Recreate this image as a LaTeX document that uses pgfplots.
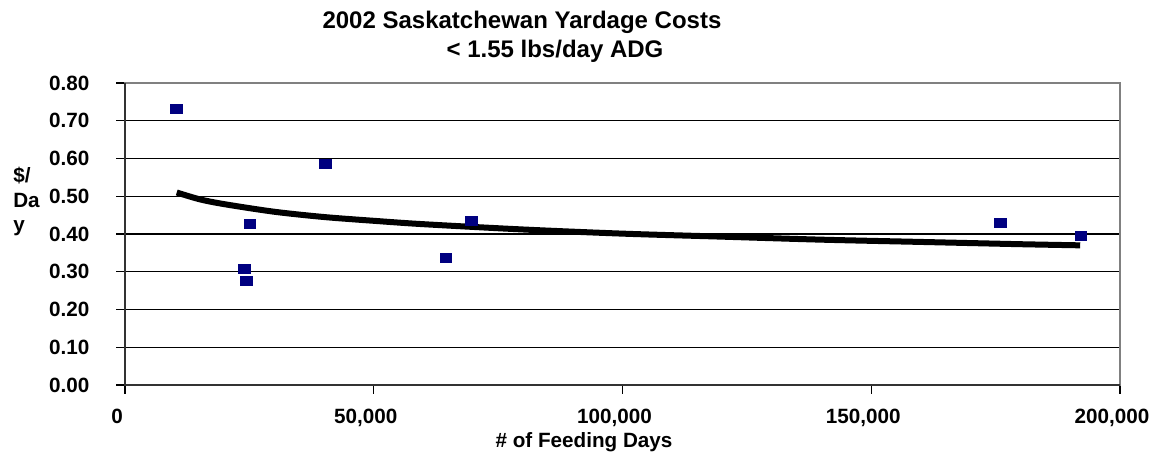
\documentclass[border=0pt]{standalone}
\usepackage{fontspec}
\setmainfont{Liberation Sans}
\usepackage{pgfplots}
\pgfplotsset{compat=1.18}
\definecolor{navy}{RGB}{0,0,128}
\definecolor{bordergray}{RGB}{128,128,128}
\begin{document}
\begin{tikzpicture}
\begin{axis}[
  at={(0,0)}, anchor=south west,
  scale only axis,
  width=746.25pt, height=226.5pt,
  xmin=0, xmax=200000, ymin=0, ymax=0.8,
  xtick={0,50000,100000,150000,200000},
  xticklabels={0,{50,000},{100,000},{150,000},{200,000}},
  ytick={0,0.1,0.2,0.3,0.4,0.5,0.6,0.7,0.8},
  yticklabels={0.00,0.10,0.20,0.30,0.40,0.50,0.60,0.70,0.80},
  scaled x ticks=false,
  scaled y ticks=false,
  tick label style={font=\fontsize{15.5}{18}\selectfont\bfseries},
  x tick label style={anchor=north, inner sep=0pt, yshift=-11pt, xshift=-6pt},
  y tick label style={anchor=east, inner sep=0pt, xshift=-20pt},
  tick align=outside,
  tick pos=left,
  major tick length=6.5pt,
  every tick/.style={black, line width=0.8pt},
  ymajorgrids=true,
  major grid style={black, line width=0.8pt},
  axis line style={bordergray, line width=1pt},
  clip=false,
]
\addplot[only marks, mark=square*, mark size=3.4pt, mark options={navy, fill=navy, xscale=1.3}]
coordinates {
(10250,0.733)
(23900,0.309)
(24300,0.277)
(25060,0.428)
(40200,0.587)
(64460,0.338)
(69550,0.435)
(176000,0.431)
(192100,0.395)
};
\addplot[black, line width=4.5pt, no marks, smooth]
coordinates {
(10400,0.510)
(15000,0.492)
(20000,0.479)
(30000,0.459)
(40000,0.445)
(50000,0.435)
(60000,0.426)
(80000,0.412)
(100000,0.401)
(120000,0.393)
(140000,0.385)
(160000,0.379)
(180000,0.373)
(192000,0.370)
};
\draw[black!80, line width=1.2pt] (rel axis cs:0,1) -- (rel axis cs:0,0) -- (rel axis cs:1,0);
\end{axis}
\begin{scope}[x=0.75pt,y=0.75pt]
\node[font=\fontsize{18}{21}\selectfont\bfseries] at (397,363) {2002 Saskatchewan Yardage Costs};
\node[font=\fontsize{18}{21}\selectfont\bfseries] at (430,334) {< 1.55 lbs/day ADG};
\node[font=\fontsize{15.5}{18}\selectfont\bfseries, anchor=base west, inner sep=0pt] at (-112,203) {\$/};
\node[font=\fontsize{15.5}{18}\selectfont\bfseries, anchor=base west, inner sep=0pt] at (-112,178) {Da};
\node[font=\fontsize{15.5}{18}\selectfont\bfseries, anchor=base west, inner sep=0pt] at (-112,154) {y};
\node[font=\fontsize{15.5}{18}\selectfont\bfseries, anchor=base, inner sep=0pt] at (459,-62) {\# of Feeding Days};
\pgfresetboundingbox
\path[use as bounding box] (-125,-66) rectangle (1024,385);
\end{scope}
\end{tikzpicture}
\end{document}
